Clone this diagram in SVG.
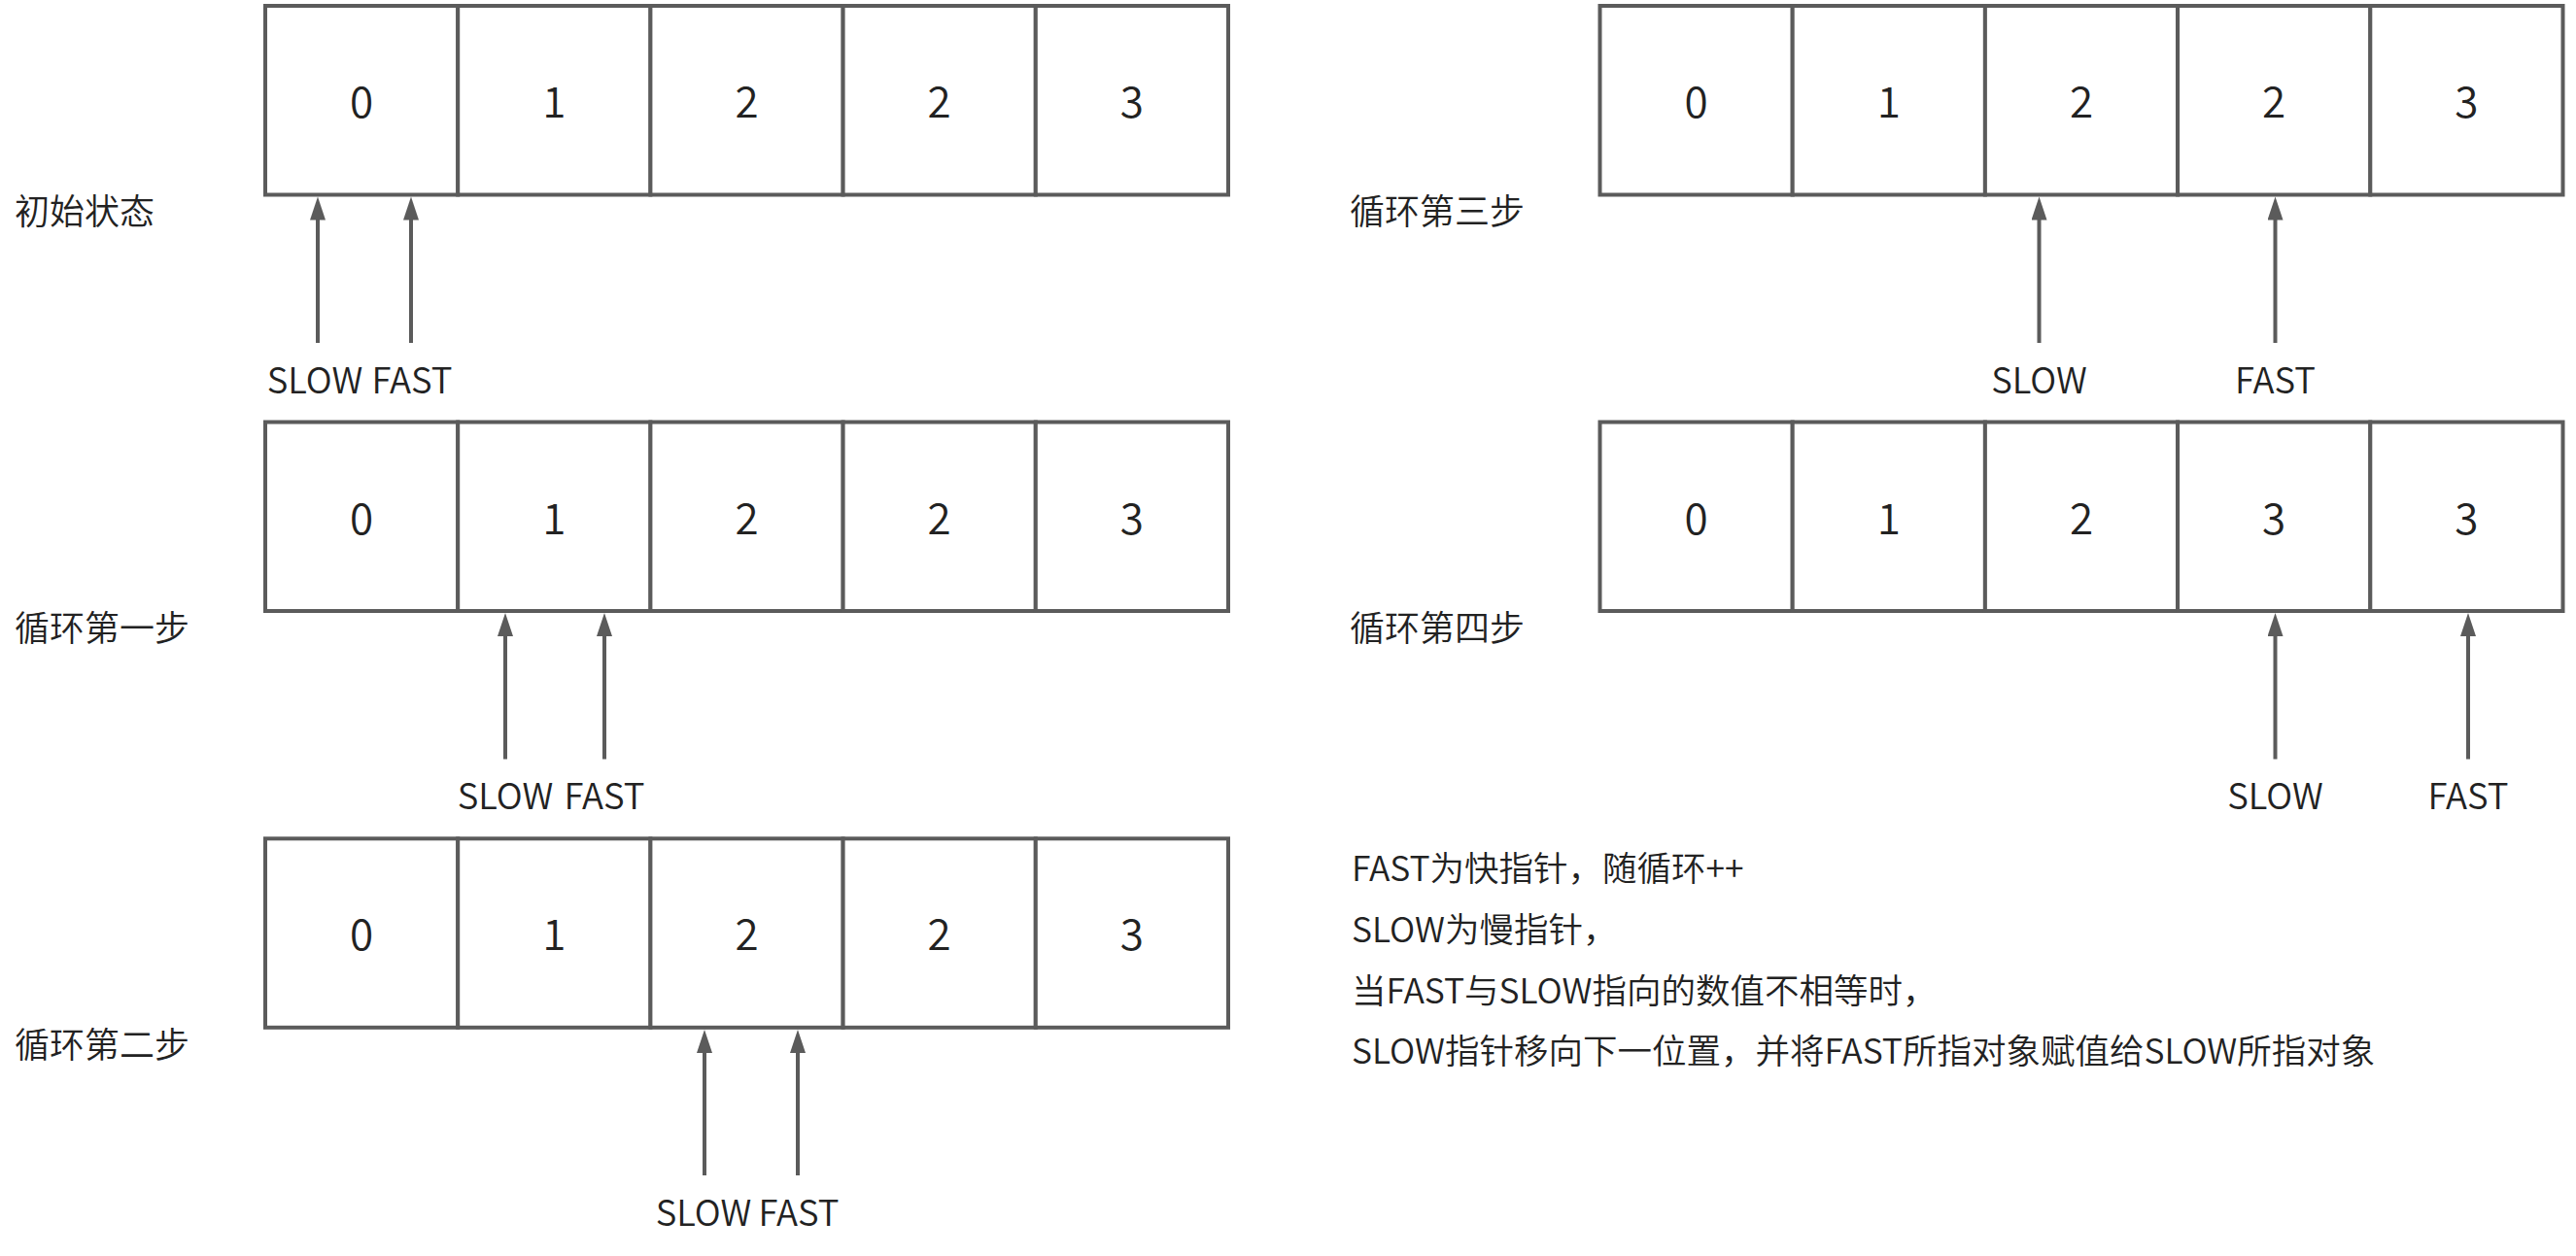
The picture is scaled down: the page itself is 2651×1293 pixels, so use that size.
<svg xmlns="http://www.w3.org/2000/svg" width="2651" height="1293" viewBox="0 0 2651 1293">
<style>
.cell{fill:#fff;stroke:#5b5b5b;stroke-width:4}
.val{font-family:"Noto Sans CJK SC","Liberation Sans",sans-serif;font-size:44px;font-weight:350;fill:#222;text-anchor:middle}
.ptr{font-family:"Noto Sans CJK SC","Liberation Sans",sans-serif;font-size:36.5px;font-weight:350;fill:#222;text-anchor:middle}
.lbl{font-family:"Noto Sans CJK SC","Liberation Sans",sans-serif;font-size:36px;font-weight:350;fill:#222}
.note{font-family:"Noto Sans CJK SC","Liberation Sans",sans-serif;font-size:35.5px;font-weight:350;fill:#222}
.arr{stroke:#5b5b5b;stroke-width:4;fill:none;marker-end:url(#ah)}
</style>
<defs>
<marker id="ah" markerUnits="userSpaceOnUse" markerWidth="26" markerHeight="18" refX="3" refY="8" orient="auto" viewBox="0 0 26 18">
<path d="M0,0 L24,8 L0,16 z" fill="#5b5b5b"/>
</marker>
</defs>
<rect width="2651" height="1293" fill="#fff"/>

<g id="row-init">
<rect class="cell" x="273" y="6" width="198.2" height="194.5"/>
<rect class="cell" x="471.2" y="6" width="198.2" height="194.5"/>
<rect class="cell" x="669.4" y="6" width="198.2" height="194.5"/>
<rect class="cell" x="867.6" y="6" width="198.2" height="194.5"/>
<rect class="cell" x="1065.8" y="6" width="198.2" height="194.5"/>
<text class="val" x="372.1" y="121">0</text>
<text class="val" x="570.3" y="121">1</text>
<text class="val" x="768.5" y="121">2</text>
<text class="val" x="966.7" y="121">2</text>
<text class="val" x="1164.9" y="121">3</text>
</g>
<g id="row-step1">
<rect class="cell" x="273" y="434.5" width="198.2" height="194.5"/>
<rect class="cell" x="471.2" y="434.5" width="198.2" height="194.5"/>
<rect class="cell" x="669.4" y="434.5" width="198.2" height="194.5"/>
<rect class="cell" x="867.6" y="434.5" width="198.2" height="194.5"/>
<rect class="cell" x="1065.8" y="434.5" width="198.2" height="194.5"/>
<text class="val" x="372.1" y="549.5">0</text>
<text class="val" x="570.3" y="549.5">1</text>
<text class="val" x="768.5" y="549.5">2</text>
<text class="val" x="966.7" y="549.5">2</text>
<text class="val" x="1164.9" y="549.5">3</text>
</g>
<g id="row-step2">
<rect class="cell" x="273" y="863.3" width="198.2" height="194.5"/>
<rect class="cell" x="471.2" y="863.3" width="198.2" height="194.5"/>
<rect class="cell" x="669.4" y="863.3" width="198.2" height="194.5"/>
<rect class="cell" x="867.6" y="863.3" width="198.2" height="194.5"/>
<rect class="cell" x="1065.8" y="863.3" width="198.2" height="194.5"/>
<text class="val" x="372.1" y="978.3">0</text>
<text class="val" x="570.3" y="978.3">1</text>
<text class="val" x="768.5" y="978.3">2</text>
<text class="val" x="966.7" y="978.3">2</text>
<text class="val" x="1164.9" y="978.3">3</text>
</g>
<g id="row-step3">
<rect class="cell" x="1646.5" y="6" width="198.2" height="194.5"/>
<rect class="cell" x="1844.7" y="6" width="198.2" height="194.5"/>
<rect class="cell" x="2042.9" y="6" width="198.2" height="194.5"/>
<rect class="cell" x="2241.1" y="6" width="198.2" height="194.5"/>
<rect class="cell" x="2439.3" y="6" width="198.2" height="194.5"/>
<text class="val" x="1745.6" y="121">0</text>
<text class="val" x="1943.8" y="121">1</text>
<text class="val" x="2142" y="121">2</text>
<text class="val" x="2340.2" y="121">2</text>
<text class="val" x="2538.4" y="121">3</text>
</g>
<g id="row-step4">
<rect class="cell" x="1646.5" y="434.5" width="198.2" height="194.5"/>
<rect class="cell" x="1844.7" y="434.5" width="198.2" height="194.5"/>
<rect class="cell" x="2042.9" y="434.5" width="198.2" height="194.5"/>
<rect class="cell" x="2241.1" y="434.5" width="198.2" height="194.5"/>
<rect class="cell" x="2439.3" y="434.5" width="198.2" height="194.5"/>
<text class="val" x="1745.6" y="549.5">0</text>
<text class="val" x="1943.8" y="549.5">1</text>
<text class="val" x="2142" y="549.5">2</text>
<text class="val" x="2340.2" y="549.5">3</text>
<text class="val" x="2538.4" y="549.5">3</text>
</g>

<g id="labels">
<text class="lbl" x="15" y="231">初始状态</text>
<text class="lbl" x="15" y="660">循环第一步</text>
<text class="lbl" x="15" y="1089">循环第二步</text>
<text class="lbl" x="1389" y="231">循环第三步</text>
<text class="lbl" x="1389" y="660">循环第四步</text>
</g>

<g id="pointer-labels">
<text class="ptr" x="324" y="405">SLOW</text>
<text class="ptr" x="424" y="405">FAST</text>
<text class="ptr" x="520" y="833">SLOW</text>
<text class="ptr" x="622" y="833">FAST</text>
<text class="ptr" x="724" y="1262">SLOW</text>
<text class="ptr" x="822" y="1262">FAST</text>
<text class="ptr" x="2098.5" y="405">SLOW</text>
<text class="ptr" x="2341.5" y="405">FAST</text>
<text class="ptr" x="2341.5" y="833">SLOW</text>
<text class="ptr" x="2540" y="833">FAST</text>
</g>

<g id="connectors">
<line class="arr" x1="327" y1="353" x2="327" y2="223.5"/>
<line class="arr" x1="423" y1="353" x2="423" y2="223.5"/>
<line class="arr" x1="520" y1="781.5" x2="520" y2="652"/>
<line class="arr" x1="622" y1="781.5" x2="622" y2="652"/>
<line class="arr" x1="725" y1="1210" x2="725" y2="1081"/>
<line class="arr" x1="821" y1="1210" x2="821" y2="1081"/>
<line class="arr" x1="2098.5" y1="353" x2="2098.5" y2="223.5"/>
<line class="arr" x1="2341.5" y1="353" x2="2341.5" y2="223.5"/>
<line class="arr" x1="2341.5" y1="781.5" x2="2341.5" y2="652"/>
<line class="arr" x1="2540" y1="781.5" x2="2540" y2="652"/>
</g>

<g id="note">
<text class="note" x="1391" y="907">FAST为快指针，随循环++</text>
<text class="note" x="1391" y="970">SLOW为慢指针，</text>
<text class="note" x="1391" y="1033">当FAST与SLOW指向的数值不相等时，</text>
<text class="note" x="1391" y="1095">SLOW指针移向下一位置，并将FAST所指对象赋值给SLOW所指对象</text>
</g>
</svg>
